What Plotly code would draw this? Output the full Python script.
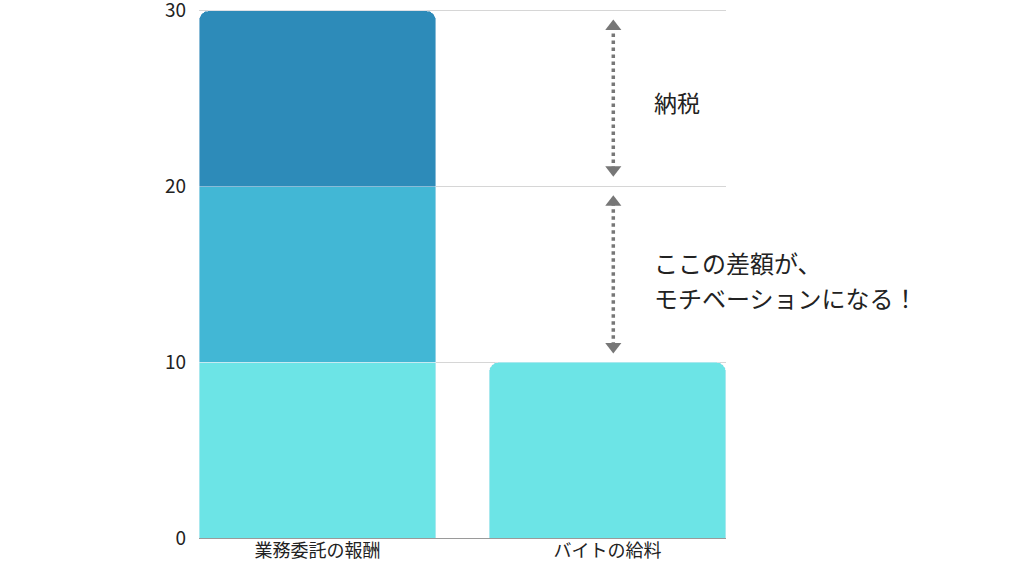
import plotly.graph_objects as go

categories = ["業務委託の報酬", "バイトの給料"]
base_part = [10, 10]
middle_part = [10, None]
tax_part = [10, None]

# dotted arrows beside the second bar (drawn on a numeric overlay axis)
arrow_x = [1.02, 1.02]
tax_arrow_y = [29.1, 20.95]
diff_arrow_y = [19.1, 10.9]

note_lines = ["ここの差額が、", "モチベーションになる！"]
note_y = [15.7, 13.7]

font = "Noto Sans CJK JP"
x_range = [-0.4086, 1.4086]

fig = go.Figure()
fig.add_trace(go.Bar(x=categories, y=base_part, marker_color="#6ce4e6"))
fig.add_trace(go.Bar(x=categories, y=middle_part, marker_color="#42b7d5"))
fig.add_trace(go.Bar(x=categories, y=tax_part, marker_color="#2d8bb9"))

for ys in (tax_arrow_y, diff_arrow_y):
    fig.add_trace(go.Scatter(
        x=arrow_x, y=ys, xaxis="x2", mode="lines+markers", cliponaxis=False,
        line=dict(color="#777777", width=3.5, dash="dot"),
        marker=dict(symbol=["triangle-up", "triangle-down"], size=14, color="#777777"),
    ))

fig.add_annotation(x=1.155, y=24.8, xref="x", yref="y", text="納税",
                   showarrow=False, xanchor="left", font=dict(size=23, color="#222222"))
for line, y in zip(note_lines, note_y):
    fig.add_annotation(x=1.155, y=y, xref="x", yref="y", text=line,
                       showarrow=False, xanchor="left",
                       font=dict(size=24, color="#222222"))

fig.update_layout(
    width=1024, height=576,
    margin=dict(l=199, r=298, t=9, b=38, autoexpand=False),
    barmode="stack", bargap=0.183, barcornerradius=10,
    showlegend=False,
    plot_bgcolor="white", paper_bgcolor="white",
    font=dict(family=font, size=18, color="#222222"),
    xaxis=dict(range=x_range, showgrid=False, ticks="", tickfont=dict(size=18)),
    xaxis2=dict(overlaying="x", range=x_range, visible=False),
)
fig.update_yaxes(range=[0, 30.1], tickvals=[0, 10, 20, 30], gridcolor="#d6d6d6",
                 zeroline=True, zerolinecolor="#9a9a9a", zerolinewidth=1,
                 tickfont=dict(size=19), ticklabelstandoff=12,
                 ticklabeloverflow="allow")

fig.write_html("out.html", config={"displayModeBar": False},
               post_script="document.body.style.margin='0';")
